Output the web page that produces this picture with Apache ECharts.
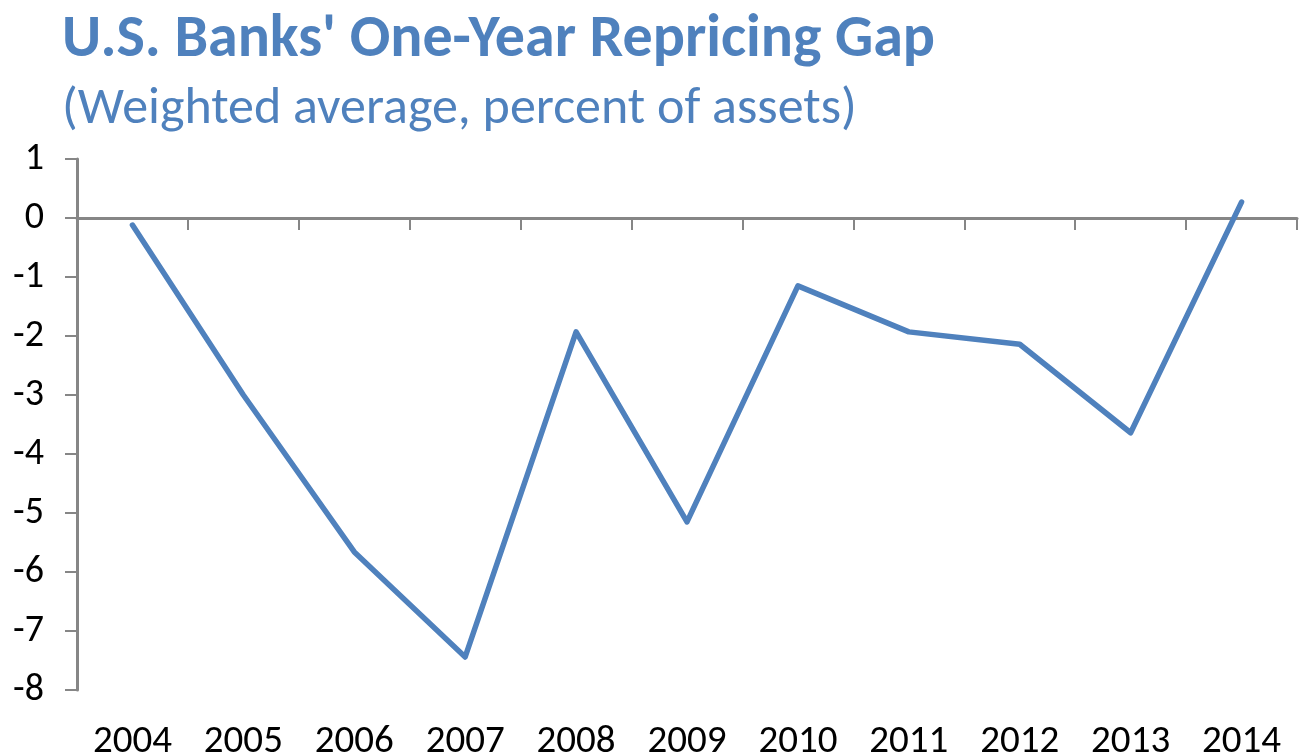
<!DOCTYPE html>
<html>
<head>
<meta charset="utf-8">
<script src="https://cdn.jsdelivr.net/npm/echarts@6/dist/echarts.min.js"></script>
<style>
  html, body { margin: 0; padding: 0; background: #ffffff; }
  #chart { width: 1299px; height: 755px; }
</style>
</head>
<body>
<div id="chart"></div>
<script>
// One-year repricing gap, weighted average, percent of assets
const years = ['2004', '2005', '2006', '2007', '2008', '2009', '2010', '2011', '2012', '2013', '2014'];
const gapValues = [-0.12, -3.0, -5.66, -7.44, -1.93, -5.15, -1.15, -1.93, -2.14, -3.64, 0.27];
const yTicks = { min: -8, max: 1, step: 1 };

const FONT = 'Carlito, Lato, "Open Sans", sans-serif';
const BLUE = '#4F81BD';
const AXIS_GREY = '#868686';

const chart = echarts.init(document.getElementById('chart'), null, { renderer: 'canvas' });

chart.setOption({
  animation: false,
  backgroundColor: '#ffffff',
  title: [
    {
      text: "U.S. Banks' One-Year Repricing Gap",
      left: 57, top: 6,
      textStyle: { fontFamily: FONT, fontWeight: 'bold', fontSize: 60, color: BLUE }
    },
    {
      text: '(Weighted average, percent of assets)',
      left: 57, top: 79,
      textStyle: { fontFamily: FONT, fontWeight: 'normal', fontSize: 52, color: BLUE }
    }
  ],
  grid: { left: 77, right: 2, top: 159, bottom: 65, containLabel: false, outerBoundsMode: 'none' },
  xAxis: [
    {
      type: 'category',
      data: years,
      boundaryGap: true,
      position: 'bottom',
      axisLine: { onZero: true, lineStyle: { color: AXIS_GREY, width: 3 } },
      axisTick: { show: true, alignWithLabel: false, length: 12, lineStyle: { color: AXIS_GREY, width: 2 } },
      axisLabel: { show: false },
      splitLine: { show: false }
    },
    {
      type: 'category',
      data: years,
      boundaryGap: true,
      position: 'bottom',
      axisLine: { show: false, onZero: false },
      axisTick: { show: false },
      axisLabel: { show: true, margin: 33, fontFamily: FONT, fontSize: 39, color: '#000000' },
      splitLine: { show: false }
    }
  ],
  yAxis: {
    type: 'value',
    min: yTicks.min,
    max: yTicks.max,
    interval: yTicks.step,
    axisLine: { show: true, onZero: false, lineStyle: { color: AXIS_GREY, width: 3 } },
    axisTick: { show: true, length: 12, lineStyle: { color: AXIS_GREY, width: 2 } },
    axisLabel: { margin: 33, fontFamily: FONT, fontSize: 38, color: '#000000' },
    splitLine: { show: false }
  },
  series: [
    {
      type: 'line',
      xAxisIndex: 0,
      data: gapValues,
      showSymbol: false,
      symbol: 'none',
      lineStyle: { color: BLUE, width: 5.5, cap: 'round', join: 'round' },
      itemStyle: { color: BLUE }
    }
  ]
});
</script>
</body>
</html>
